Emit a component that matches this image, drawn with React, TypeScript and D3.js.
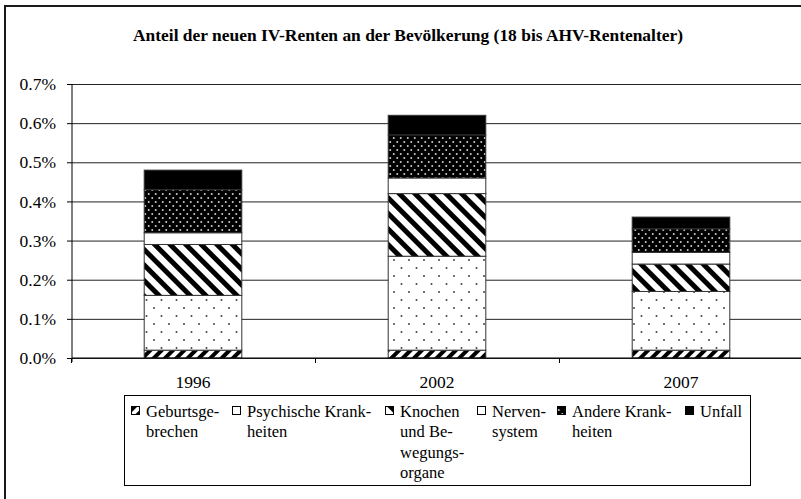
import * as d3 from "d3";
import { useEffect, useRef } from "react";

const years = ["1996", "2002", "2007"];
const seriesNames = [
  "Geburtsgebrechen",
  "Psychische Krankheiten",
  "Knochen und Bewegungsorgane",
  "Nervensystem",
  "Andere Krankheiten",
  "Unfall",
];
// shares in percent of population
const geburtsgebrechen = [0.02, 0.02, 0.02];
const psychisch = [0.14, 0.24, 0.15];
const knochen = [0.13, 0.16, 0.07];
const nerven = [0.03, 0.04, 0.03];
const andere = [0.11, 0.11, 0.06];
const unfall = [0.05, 0.05, 0.03];
const yTicks = [0, 0.1, 0.2, 0.3, 0.4, 0.5, 0.6, 0.7];
const legendLines = [
  ["Geburtsge-", "brechen"],
  ["Psychische Krank-", "heiten"],
  ["Knochen", "und Be-", "wegungs-", "organe"],
  ["Nerven-", "system"],
  ["Andere Krank-", "heiten"],
  ["Unfall"],
];
const title = "Anteil der neuen IV-Renten an der Bevölkerung (18 bis AHV-Rentenalter)";

const fills = ["url(#pGeb)", "url(#pPsy)", "url(#pKno)", "#fff", "url(#pAnd)", "#000"];
const legendX = [131, 232, 385, 477, 557, 685];

const FONT = "'Liberation Serif', 'Times New Roman', serif";

function App() {
  const ref = useRef<SVGSVGElement>(null);

  useEffect(() => {
    const svg = d3.select(ref.current);
    svg.selectAll("*").remove();

    const left = 72;
    const right = 803;
    const top = 84;
    const bottom = 358;

    const values = [geburtsgebrechen, psychisch, knochen, nerven, andere, unfall];
    const rows = years.map((y, i) => {
      const r: any = { year: y };
      seriesNames.forEach((s, j) => (r[s] = values[j][i]));
      return r;
    });
    const stacked = d3.stack().keys(seriesNames)(rows);

    const defs = svg.append("defs");
    // diagonal "/" stripes
    const geb = defs
      .append("pattern")
      .attr("id", "pGeb")
      .attr("patternUnits", "userSpaceOnUse")
      .attr("width", 8)
      .attr("height", 8)
      .attr("patternTransform", "rotate(45)");
    geb.append("rect").attr("width", 8).attr("height", 8).attr("fill", "#fff");
    geb.append("rect").attr("width", 4).attr("height", 8).attr("fill", "#000");

    const psy = defs
      .append("pattern")
      .attr("id", "pPsy")
      .attr("patternUnits", "userSpaceOnUse")
      .attr("width", 15)
      .attr("height", 16);
    psy.append("rect").attr("width", 15).attr("height", 16).attr("fill", "#fff");
    psy.append("circle").attr("cx", 4).attr("cy", 4).attr("r", 1).attr("fill", "#444");
    psy.append("circle").attr("cx", 11.5).attr("cy", 12).attr("r", 1).attr("fill", "#444");

    // diagonal "\" stripes
    const kno = defs
      .append("pattern")
      .attr("id", "pKno")
      .attr("patternUnits", "userSpaceOnUse")
      .attr("width", 11)
      .attr("height", 11)
      .attr("patternTransform", "rotate(-45)");
    kno.append("rect").attr("width", 11).attr("height", 11).attr("fill", "#fff");
    kno.append("rect").attr("width", 5).attr("height", 11).attr("fill", "#000");

    const and = defs
      .append("pattern")
      .attr("id", "pAnd")
      .attr("patternUnits", "userSpaceOnUse")
      .attr("width", 7)
      .attr("height", 8);
    and.append("rect").attr("width", 7).attr("height", 8).attr("fill", "#000");
    and.append("circle").attr("cx", 1.75).attr("cy", 2).attr("r", 1).attr("fill", "#ccc");
    and.append("circle").attr("cx", 5.25).attr("cy", 6).attr("r", 1).attr("fill", "#ccc");

    // outer frame
    svg
      .append("rect")
      .attr("x", 5)
      .attr("y", 6)
      .attr("width", 900)
      .attr("height", 700)
      .attr("fill", "#fff")
      .attr("stroke", "#1a1a1a")
      .attr("stroke-width", 2);

    svg
      .append("text")
      .attr("x", 408)
      .attr("y", 41)
      .attr("text-anchor", "middle")
      .attr("font-family", FONT)
      .attr("font-weight", "bold")
      .attr("font-size", 17)
      .attr("textLength", 550)
      .attr("lengthAdjust", "spacingAndGlyphs")
      .text(title);

    const x = d3.scaleBand().domain(years).range([left - 1, right]).padding(0);
    const y = d3.scaleLinear().domain([0, 0.7]).range([bottom, top]);

    // grid
    svg
      .append("g")
      .attr("transform", `translate(${left},0)`)
      .call(d3.axisLeft(y).tickValues(yTicks).tickSize(-(right - left)).tickFormat(() => ""))
      .call((g) => g.select(".domain").remove())
      .selectAll("line")
      .attr("stroke", "#222");

    // y axis
    const ya = svg
      .append("g")
      .attr("transform", `translate(${left},0)`)
      .call(d3.axisLeft(y).tickValues(yTicks).tickSize(5).tickPadding(11).tickFormat((d) => d3.format(".1f")(d as number) + "%"));
    ya.select(".domain").attr("stroke", "#000").attr("d", `M0,${top}V${bottom + 4}`);
    ya.selectAll("line").attr("stroke", "#000");
    ya.selectAll("text")
      .attr("font-family", FONT)
      .attr("font-size", 17.5)
      .attr("fill", "#000");

    // bars
    const bw = x.bandwidth() * 0.4;
    svg
      .append("g")
      .selectAll("g")
      .data(stacked)
      .join("g")
      .attr("fill", (_, i) => fills[i])
      .selectAll("rect")
      .data((d) => d)
      .join("rect")
      .attr("x", (d: any) => x(d.data.year)! + (x.bandwidth() - bw) / 2)
      .attr("y", (d) => y(d[1]))
      .attr("width", bw)
      .attr("height", (d) => y(d[0]) - y(d[1]))
      .attr("stroke", "#333")
      .attr("stroke-width", 1);

    // x axis
    svg
      .append("line")
      .attr("x1", left)
      .attr("x2", right)
      .attr("y1", bottom)
      .attr("y2", bottom)
      .attr("stroke", "#000");
    const bounds = years.map((d) => x(d)!).concat([right]);
    svg
      .append("g")
      .selectAll("line")
      .data(bounds)
      .join("line")
      .attr("x1", (d) => d + 0.5)
      .attr("x2", (d) => d + 0.5)
      .attr("y1", bottom)
      .attr("y2", bottom + 5)
      .attr("stroke", "#000");
    svg
      .append("g")
      .selectAll("text")
      .data(years)
      .join("text")
      .attr("x", (d) => x(d)! + x.bandwidth() / 2)
      .attr("y", 388)
      .attr("text-anchor", "middle")
      .attr("font-family", FONT)
      .attr("font-size", 17.5)
      .text((d) => d);

    // legend
    svg
      .append("rect")
      .attr("x", 124.5)
      .attr("y", 395.5)
      .attr("width", 626)
      .attr("height", 90)
      .attr("fill", "#fff")
      .attr("stroke", "#000");
    const lg = svg
      .append("g")
      .selectAll("g")
      .data(seriesNames)
      .join("g")
      .attr("transform", (_, i) => `translate(${legendX[i]},0)`);
    lg.append("rect")
      .attr("x", 0.5)
      .attr("y", 406.5)
      .attr("width", 8)
      .attr("height", 8)
      .attr("fill", (_, i) => fills[i])
      .attr("stroke", "#000");
    lg.append("text")
      .attr("font-family", FONT)
      .attr("font-size", 16.5)
      .selectAll("tspan")
      .data((_, i) => legendLines[i])
      .join("tspan")
      .attr("x", 15)
      .attr("y", (_, j) => 417 + j * 20.3)
      .text((d) => d);
  }, []);

  return (
    <svg
      ref={ref}
      width={801}
      height={499}
      style={{ position: "absolute", left: 0, top: 0, background: "#fff" }}
    />
  );
}

export default App;
